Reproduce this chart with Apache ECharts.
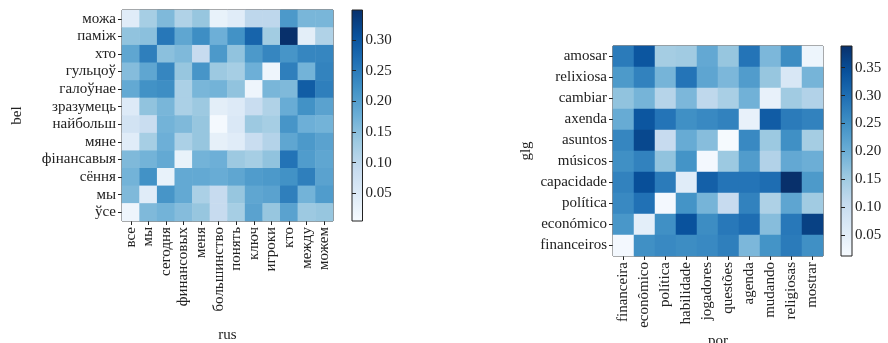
<!DOCTYPE html>
<html>
<head>
<meta charset="utf-8">
<script src="https://cdn.jsdelivr.net/npm/echarts@6/dist/echarts.min.js"></script>
<style>html,body{margin:0;padding:0;background:#fff}#c{width:888px;height:343px}</style>
</head>
<body>
<div id="c"></div>
<script>
// ---- Left heatmap: bel (rows) vs rus (columns) ----
var rusCols = ['все','мы','сегодня','финансовых','меня','большинство','понять','ключ','игроки','кто','между','можем'];
var belRows = ['можа','паміж','хто','гульцоў','галоўнае','зразумець','найбольш','мяне','фінансавыя','сёння','мы','ўсе'];
var belRus = [
  [0.045,0.125,0.160,0.115,0.140,0.030,0.045,0.100,0.100,0.210,0.165,0.165],
  [0.145,0.150,0.255,0.190,0.225,0.175,0.220,0.280,0.130,0.349,0.040,0.115],
  [0.190,0.245,0.150,0.160,0.090,0.210,0.145,0.210,0.235,0.215,0.235,0.235],
  [0.155,0.190,0.235,0.140,0.215,0.135,0.125,0.175,0.020,0.245,0.170,0.240],
  [0.185,0.220,0.225,0.120,0.165,0.170,0.145,0.020,0.165,0.160,0.290,0.245],
  [0.050,0.145,0.165,0.120,0.135,0.040,0.050,0.085,0.115,0.180,0.220,0.195],
  [0.070,0.085,0.170,0.160,0.140,0.010,0.055,0.135,0.125,0.215,0.175,0.170],
  [0.045,0.125,0.175,0.120,0.140,0.035,0.045,0.085,0.110,0.190,0.210,0.195],
  [0.160,0.170,0.185,0.030,0.170,0.175,0.135,0.125,0.145,0.260,0.205,0.190],
  [0.170,0.220,0.030,0.185,0.185,0.180,0.190,0.205,0.210,0.220,0.245,0.195],
  [0.160,0.045,0.215,0.185,0.120,0.090,0.140,0.190,0.195,0.245,0.170,0.205],
  [0.020,0.160,0.170,0.155,0.140,0.090,0.125,0.195,0.140,0.195,0.135,0.140]
];
var leftMin = 0.005, leftMax = 0.349;
var leftTicks = [0.05,0.10,0.15,0.20,0.25,0.30];

// ---- Right heatmap: glg (rows) vs por (columns) ----
var porCols = ['financeira','econômico','política','habilidade','jogadores','questões','agenda','mudando','religiosas','mostrar'];
var glgRows = ['amosar','relixiosa','cambiar','axenda','asuntos','músicos','capacidade','política','económico','financeiros'];
var glgPor = [
  [0.280,0.335,0.145,0.150,0.210,0.160,0.290,0.185,0.255,0.030],
  [0.235,0.270,0.190,0.290,0.215,0.185,0.230,0.160,0.070,0.190],
  [0.165,0.190,0.125,0.185,0.115,0.140,0.195,0.040,0.150,0.130],
  [0.205,0.335,0.290,0.250,0.260,0.270,0.040,0.325,0.280,0.270],
  [0.265,0.355,0.105,0.205,0.175,0.015,0.260,0.155,0.250,0.145],
  [0.250,0.270,0.165,0.245,0.020,0.155,0.230,0.130,0.210,0.200],
  [0.270,0.345,0.280,0.055,0.320,0.290,0.290,0.300,0.389,0.235],
  [0.260,0.295,0.020,0.245,0.190,0.105,0.270,0.135,0.215,0.150],
  [0.240,0.050,0.250,0.340,0.255,0.285,0.300,0.175,0.285,0.365],
  [0.020,0.250,0.260,0.255,0.260,0.275,0.185,0.245,0.280,0.250]
];
var rightMin = 0.012, rightMax = 0.389;
var rightTicks = [0.05,0.10,0.15,0.20,0.25,0.30,0.35];

var blues = ['#f7fbff','#deebf7','#c6dbef','#9ecae1','#6baed6','#4292c6','#2171b5','#08519c','#08306b'];
var FONT = 'Liberation Serif';

function toData(mat){
  var d = [];
  for (var r = 0; r < mat.length; r++)
    for (var c = 0; c < mat[r].length; c++) d.push([c, r, mat[r][c]]);
  return d;
}
function gradient(){
  var stops = blues.map(function(col,i){ return {offset: 1 - i/(blues.length-1), color: col}; }).reverse();
  return new echarts.graphic.LinearGradient(0,0,0,1, stops);
}
var frameGrid = function(o){
  return Object.assign({show:true, borderColor:'#222', borderWidth:1, backgroundColor:'transparent',
    containLabel:false, outerBoundsMode:'none'}, o);
};
var catAxisX = function(cats, gi, name, gap){
  return {type:'category', gridIndex:gi, data:cats, position:'bottom',
    name:name, nameLocation:'middle', nameGap:gap, nameMoveOverlap:false,
    nameTextStyle:{fontFamily:FONT, fontSize:15, color:'#222'},
    axisLine:{show:false}, splitLine:{show:false},
    axisTick:{show:true, alignWithLabel:true, length:4, lineStyle:{color:'#222'}},
    axisLabel:{rotate:90, fontFamily:FONT, fontSize:15, color:'#222', margin:6, interval:0}};
};
var catAxisY = function(cats, gi, name, gap){
  return {type:'category', gridIndex:gi, data:cats, inverse:true,
    name:name, nameLocation:'middle', nameGap:gap, nameRotate:90, nameMoveOverlap:false,
    nameTextStyle:{fontFamily:FONT, fontSize:15, color:'#222'},
    axisLine:{show:false}, splitLine:{show:false},
    axisTick:{show:true, alignWithLabel:true, length:4, lineStyle:{color:'#222'}},
    axisLabel:{fontFamily:FONT, fontSize:15, color:'#222', margin:6, interval:0}};
};
var cbAxisY = function(gi, mn, mx, ticks){
  return {type:'value', gridIndex:gi, min:mn, max:mx, position:'right',
    axisLine:{show:false}, splitLine:{show:false},
    axisTick:{show:true, length:4, lineStyle:{color:'#222'}, customValues:ticks},
    axisLabel:{fontFamily:FONT, fontSize:15, color:'#222', margin:3, customValues:ticks,
      formatter:function(v){return v.toFixed(2);}}};
};

var option = {
  animation:false,
  backgroundColor:'#fff',
  grid:[
    frameGrid({left:122, top:10, width:211, height:211}),
    frameGrid({left:352, top:10, width:10.5, height:211, backgroundColor:gradient()}),
    frameGrid({left:613, top:46, width:210, height:210}),
    frameGrid({left:841, top:46, width:11, height:210, backgroundColor:gradient()})
  ],
  xAxis:[
    catAxisX(rusCols, 0, 'rus', 107),
    {type:'value', gridIndex:1, show:false, min:0, max:1},
    catAxisX(porCols, 2, 'por', 78),
    {type:'value', gridIndex:3, show:false, min:0, max:1}
  ],
  yAxis:[
    catAxisY(belRows, 0, 'bel', 97),
    cbAxisY(1, leftMin, leftMax, leftTicks),
    catAxisY(glgRows, 2, 'glg', 79),
    cbAxisY(3, rightMin, rightMax, rightTicks)
  ],
  visualMap:[
    {type:'continuous', show:false, seriesIndex:0, min:leftMin, max:leftMax, inRange:{color:blues}},
    {type:'continuous', show:false, seriesIndex:1, min:rightMin, max:rightMax, inRange:{color:blues}}
  ],
  series:[
    {type:'heatmap', xAxisIndex:0, yAxisIndex:0, data:toData(belRus), itemStyle:{borderWidth:0}, emphasis:{disabled:true}},
    {type:'heatmap', xAxisIndex:2, yAxisIndex:2, data:toData(glgPor), itemStyle:{borderWidth:0}, emphasis:{disabled:true}}
  ]
};
var chart = echarts.init(document.getElementById('c'), null, {renderer:'canvas'});
chart.setOption(option);
</script>
</body>
</html>
